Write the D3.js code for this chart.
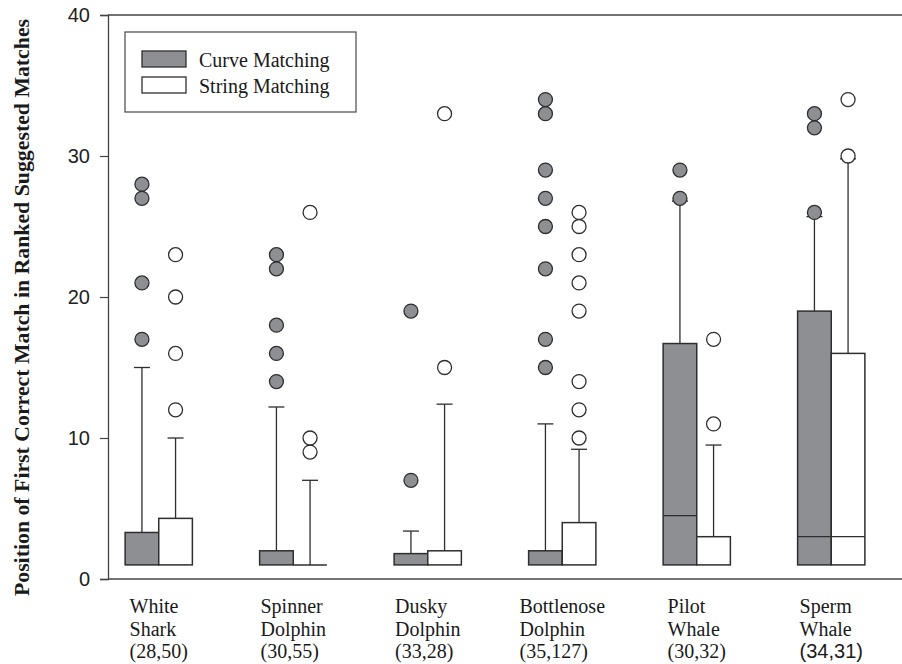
<!DOCTYPE html>
<html>
<head>
<meta charset="utf-8">
<script src="https://cdn.jsdelivr.net/npm/d3@7"></script>
<style>
  body { margin: 0; background: #fff; }
  svg { display: block; }
</style>
</head>
<body>
<div id="chart"></div>
<script>
// Chart data
const species = ["White Shark", "Spinner Dolphin", "Dusky Dolphin", "Bottlenose Dolphin", "Pilot Whale", "Sperm Whale"];
const sampleSizes = ["(28,50)", "(30,55)", "(33,28)", "(35,127)", "(30,32)", "(34,31)"];
const methods = ["Curve Matching", "String Matching"];
const yTicks = [0, 10, 20, 30, 40];

// Curve matching boxes
const curveQ1 = [1, 1, 1, 1, 1, 1];
const curveMedian = [1, 1, 1, 1, 4.5, 3];
const curveQ3 = [3.3, 2, 1.8, 2, 16.7, 19];
const curveWhiskerHigh = [15, 12.2, 3.4, 11, 26.8, 25.7];
const curveOutliers = [
    [17, 21, 27, 28],
    [14, 16, 18, 22, 23],
    [7, 19],
    [15, 17, 22, 25, 27, 29, 33, 34],
    [27, 29],
    [26, 32, 33]
];

// String matching boxes
const stringQ1 = [1, 1, 1, 1, 1, 1];
const stringMedian = [1, 1, 1, 1, 1, 3];
const stringQ3 = [4.3, 1, 2, 4, 3, 16];
const stringWhiskerHigh = [10, 7, 12.4, 9.2, 9.5, 29.8];
const stringOutliers = [
    [12, 16, 20, 23],
    [9, 10, 26],
    [15, 33],
    [10, 12, 14, 19, 21, 23, 25, 26],
    [11, 17],
    [30, 34]
];

const W = 902, H = 664;
const plot = { left: 108, right: 902, top: 15, bottom: 579 };
const serif = "'Liberation Serif', 'Times New Roman', serif";
const sans = "'Liberation Sans', Arial, sans-serif";
const ink = "#2e2e2e";
const greyFill = "#8e8f93";

const svg = d3.select("#chart").append("svg")
    .attr("width", W)
    .attr("height", H);

// Scales
const x = d3.scaleBand()
    .domain(species)
    .range([91.5, 898.5]);

const y = d3.scaleLinear()
    .domain([0, 40])
    .range([plot.bottom, plot.top]);

const boxW = x.bandwidth() * 0.25;
const capHalf = 8;

// Build box rows from the arrays
const boxes = [];
species.forEach((s, i) => {
    boxes.push({ s, m: 0, q1: curveQ1[i], med: curveMedian[i], q3: curveQ3[i], hi: curveWhiskerHigh[i], out: curveOutliers[i] });
    boxes.push({ s, m: 1, q1: stringQ1[i], med: stringMedian[i], q3: stringQ3[i], hi: stringWhiskerHigh[i], out: stringOutliers[i] });
});
const boxLeft = d => x(d.s) + x.bandwidth() / 2 + (d.m === 0 ? -boxW : 0);
const boxMid = d => boxLeft(d) + boxW / 2;

// Frame: top line, bottom line
svg.append("line")
    .attr("x1", plot.left).attr("x2", plot.right)
    .attr("y1", y(40)).attr("y2", y(40))
    .attr("stroke", "#444").attr("stroke-width", 1.3);
svg.append("line")
    .attr("x1", plot.left).attr("x2", plot.right)
    .attr("y1", y(0)).attr("y2", y(0))
    .attr("stroke", "#444").attr("stroke-width", 1.3);

// Y axis
const yAxis = svg.append("g")
    .attr("transform", `translate(${plot.left},0)`)
    .call(d3.axisLeft(y).tickValues(yTicks).tickSizeOuter(0).tickSize(8).tickPadding(10));
yAxis.select(".domain").attr("stroke", "#444").attr("stroke-width", 1.3);
yAxis.selectAll(".tick line").attr("stroke", "#444").attr("stroke-width", 1.2);
yAxis.selectAll(".tick text")
    .attr("fill", "#222")
    .style("font-family", sans)
    .style("font-size", "20px");

// Y title
svg.append("text")
    .attr("transform", `translate(29,${(12 + 603) / 2}) rotate(-90)`)
    .attr("text-anchor", "middle")
    .attr("fill", "#1a1a1a")
    .style("font-family", serif)
    .style("font-weight", "bold")
    .style("font-size", "21.8px")
    .text("Position of First Correct Match in Ranked Suggested Matches");

// Whiskers (upper only, lower whisker sits on q1)
svg.selectAll(".whisker").data(boxes).enter().append("line")
    .attr("class", "whisker")
    .attr("x1", boxMid).attr("x2", boxMid)
    .attr("y1", d => y(d.q3)).attr("y2", d => y(d.hi))
    .attr("stroke", ink).attr("stroke-width", 1.3);
svg.selectAll(".cap").data(boxes).enter().append("line")
    .attr("class", "cap")
    .attr("x1", d => boxMid(d) - capHalf).attr("x2", d => boxMid(d) + capHalf)
    .attr("y1", d => y(d.hi)).attr("y2", d => y(d.hi))
    .attr("stroke", ink).attr("stroke-width", 1.3);

// Boxes
svg.selectAll(".box").data(boxes.filter(d => d.q3 > d.q1)).enter().append("rect")
    .attr("class", "box")
    .attr("x", boxLeft)
    .attr("y", d => y(d.q3))
    .attr("width", boxW)
    .attr("height", d => y(d.q1) - y(d.q3))
    .attr("fill", d => d.m === 0 ? greyFill : "#fff")
    .attr("stroke", ink).attr("stroke-width", 1.5);

// Collapsed boxes (q1 = q3) show as a single line
svg.selectAll(".flat").data(boxes.filter(d => d.q3 <= d.q1)).enter().append("line")
    .attr("class", "flat")
    .attr("x1", boxLeft).attr("x2", d => boxLeft(d) + boxW)
    .attr("y1", d => y(d.q1)).attr("y2", d => y(d.q1))
    .attr("stroke", ink).attr("stroke-width", 1.5);

// Median lines
svg.selectAll(".median").data(boxes.filter(d => d.med > d.q1)).enter().append("line")
    .attr("class", "median")
    .attr("x1", boxLeft).attr("x2", d => boxLeft(d) + boxW)
    .attr("y1", d => y(d.med)).attr("y2", d => y(d.med))
    .attr("stroke", ink).attr("stroke-width", 1.3);

// Outliers
const outPts = [];
boxes.forEach(b => b.out.forEach(v => outPts.push({ b, v })));
svg.selectAll(".outlier").data(outPts).enter().append("circle")
    .attr("class", "outlier")
    .attr("cx", d => boxMid(d.b))
    .attr("cy", d => y(d.v))
    .attr("r", 7)
    .attr("fill", d => d.b.m === 0 ? greyFill : "#fff")
    .attr("stroke", ink).attr("stroke-width", 1.3);

// Category labels: left-aligned lines, block centred on the group
species.forEach((s, i) => {
    const lines = s.split(" ").concat([sampleSizes[i]]);
    const g = svg.append("g");
    const texts = lines.map((t, j) => g.append("text")
        .attr("y", 613 + j * 22.5)
        .attr("fill", "#1a1a1a")
        .style("font-family", (i === species.length - 1 && j === 2) ? sans : serif)
        .style("font-size", "20px")
        .text(t));
    const wMax = d3.max(texts, t => t.node().getComputedTextLength());
    texts.forEach(t => t.attr("x", x(s) + x.bandwidth() / 2 - wMax / 2));
});

// Legend
const legend = svg.append("g");
legend.append("rect")
    .attr("x", 125).attr("y", 32)
    .attr("width", 231).attr("height", 80)
    .attr("fill", "#fff")
    .attr("stroke", "#555").attr("stroke-width", 1.3);
methods.forEach((m, i) => {
    legend.append("rect")
        .attr("x", 142).attr("y", 51 + i * 26)
        .attr("width", 44).attr("height", 16)
        .attr("fill", i === 0 ? greyFill : "#fff")
        .attr("stroke", ink).attr("stroke-width", 1.3);
    legend.append("text")
        .attr("x", 199).attr("y", 67 + i * 26)
        .attr("fill", "#1a1a1a")
        .style("font-family", serif)
        .style("font-size", "20px")
        .text(m);
});
</script>
</body>
</html>
